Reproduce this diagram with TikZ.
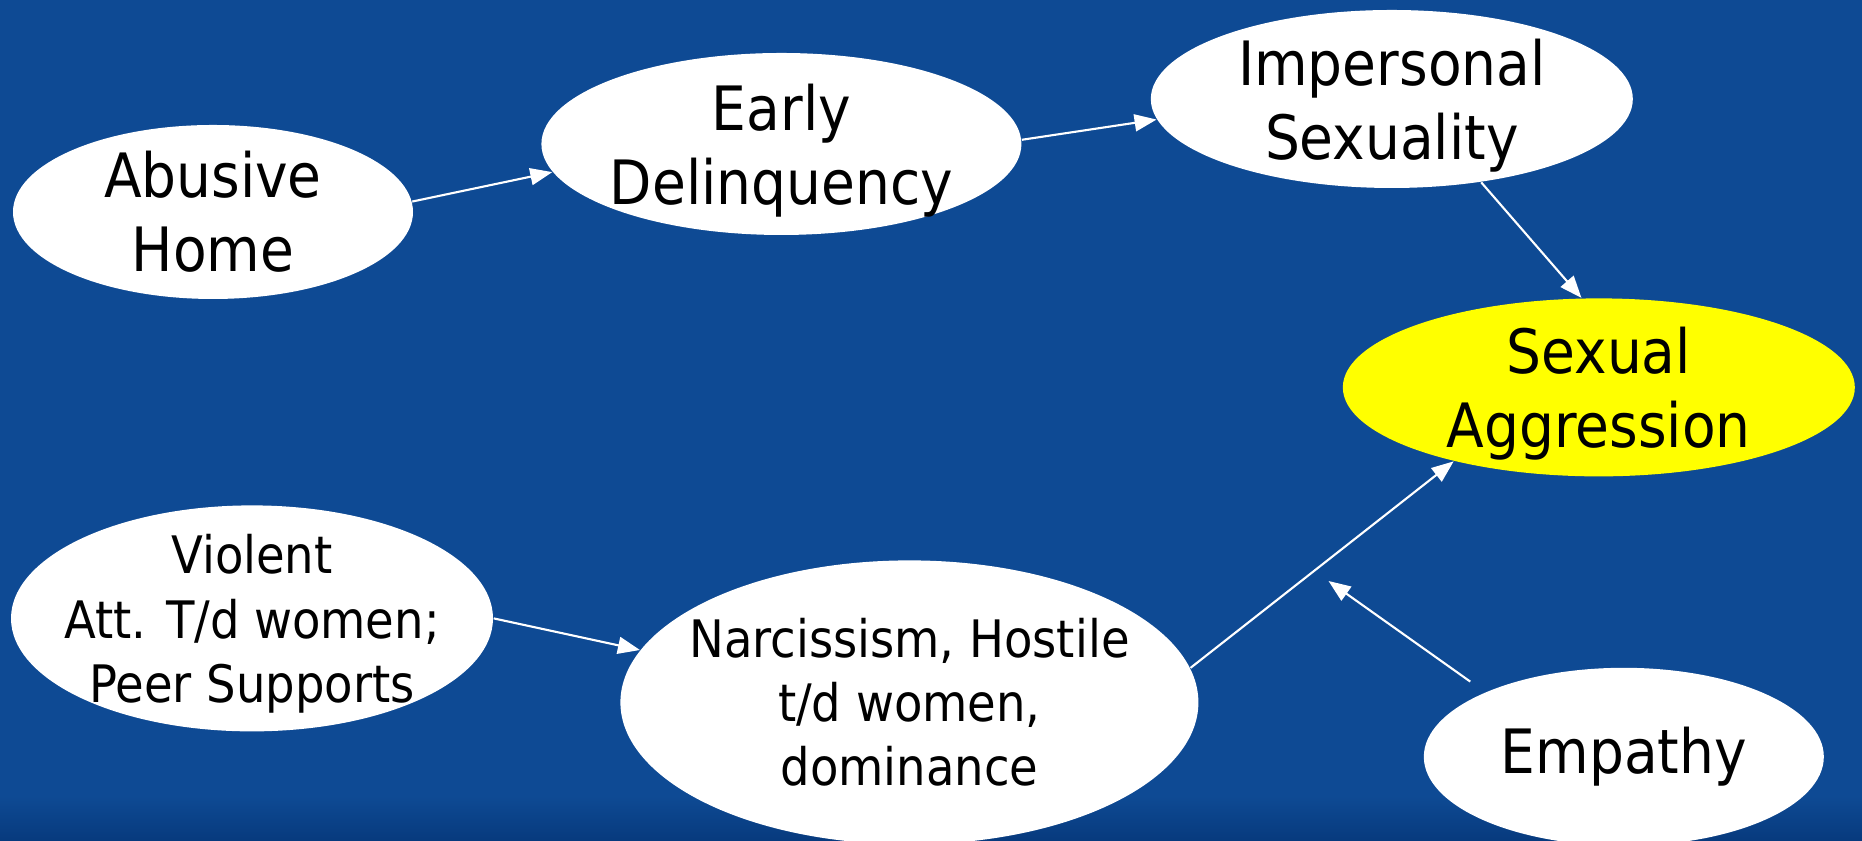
\documentclass[tikz,border=0pt]{standalone}
\usepackage{fontspec}
\setmainfont{DejaVu Sans Condensed}
\usetikzlibrary{positioning,shapes.geometric,arrows.meta}

\definecolor{slideblue}{RGB}{14,74,148}
\definecolor{slidedark}{RGB}{7,58,125}
\definecolor{hiyellow}{RGB}{255,255,0}

\tikzset{
  factor/.style={ellipse, fill=white, text=black, inner xsep=-1cm, inner ysep=-1cm, align=center},
  flat/.style={text depth=0pt},
  bigtext/.style={font=\fontsize{17.4}{21}\selectfont},
  smalltext/.style={font=\fontsize{14.7}{18.3}\selectfont},
  link/.style={draw=white, line width=0.6pt, -{Triangle[length=0.22cm,width=0.17cm]}}
}

\begin{document}
\begin{tikzpicture}

  % Background
  \fill[slideblue] (0,0) rectangle (18.62,8.41);
  \shade[top color=slideblue, bottom color=slidedark] (0,0) rectangle (18.62,0.45);
  \useasboundingbox (0,0) rectangle (18.62,8.41);

  % Define nodes
  \node[factor, bigtext, minimum width=4cm, minimum height=1.74cm] (abuse) at (2.13,6.29) {Abusive\\Home};
  \node[factor, bigtext, flat, minimum width=4.8cm, minimum height=1.82cm, right=1.27cm of abuse, yshift=0.68cm] (early) {Early\\Delinquency};
  \node[factor, bigtext, flat, minimum width=4.82cm, minimum height=1.78cm, right=1.28cm of early, yshift=0.45cm] (imp) {Impersonal\\Sexuality};
  \node[factor, bigtext, flat, fill=hiyellow, minimum width=5.12cm, minimum height=1.78cm, below=1.09cm of imp, xshift=2.07cm] (sexagg) {Sexual\\Aggression};
  \node[factor, smalltext, flat, minimum width=4.82cm, minimum height=2.26cm, below=2.05cm of abuse, xshift=0.39cm] (viol) {Violent\\Att. T/d women;\\ Peer Supports};
  \node[factor, smalltext, minimum width=5.78cm, minimum height=2.84cm, right=1.26cm of viol, yshift=-0.84cm] (narc) {Narcissism, Hostile\\t/d women,\\dominance};
  \node[factor, bigtext, minimum width=4cm, minimum height=1.78cm, below=1.9cm of sexagg, xshift=0.25cm] (emp) {Empathy};

  % Connect the nodes
  \draw[link] (abuse.3) -- (early.187);
  \draw[link] (early.1) -- (imp.185);
  \draw[link] (imp.317) -- (sexagg.101);
  \draw[link] (viol.0) -- (narc.169);
  \draw[link] (narc.7) -- (sexagg.207) coordinate[pos=0.47] (mid);
  \draw[link, shorten <=0.18cm, shorten >=5pt] (emp.155) -- (mid);

\end{tikzpicture}
\end{document}
